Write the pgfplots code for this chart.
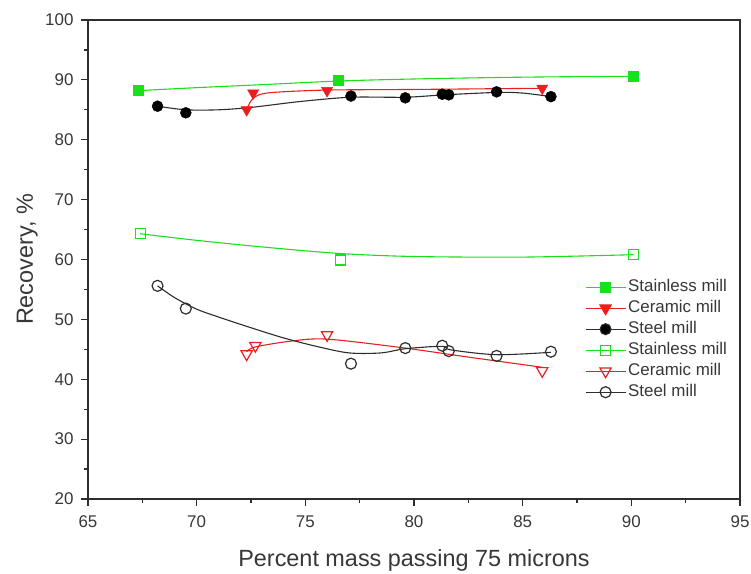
\documentclass[border=0pt]{standalone}
\usepackage{fontspec}
\setmainfont{Liberation Sans}
\usepackage{pgfplots}
\pgfplotsset{compat=1.18}

\definecolor{mgreen}{RGB}{25,225,25}
\definecolor{mred}{RGB}{235,30,30}
\definecolor{mgray}{RGB}{45,45,45}
\definecolor{tgray}{RGB}{55,55,55}

% measured recoveries
\pgfplotstableread{
x y
67.3 88.2
76.5 89.9
90.1 90.6
}\stainlessA
\pgfplotstableread{
x y
72.3 85.0
72.6 87.8
76.0 88.2
85.9 88.6
}\ceramicA
\pgfplotstableread{
x y
68.2 85.6
69.5 84.5
77.1 87.3
79.6 87.0
81.3 87.6
81.6 87.5
83.8 88.0
86.3 87.2
}\steelA
\pgfplotstableread{
x y
67.4 64.3
76.6 59.9
90.1 60.8
}\stainlessB
\pgfplotstableread{
x y
72.3 44.2
72.7 45.6
76.0 47.4
85.9 41.4
}\ceramicB
\pgfplotstableread{
x y
68.2 55.6
69.5 51.8
77.1 42.6
79.6 45.2
81.3 45.6
81.6 44.7
83.8 43.9
86.3 44.6
}\steelB

% fitted trend curves
\pgfplotstableread{
x y
67.3 88.2
70.0 88.7
73.0 89.2
76.5 89.8
79.4 90.1
83.0 90.35
86.3 90.5
90.1 90.6
}\fitStainlessA
\pgfplotstableread{
x y
72.3 85.0
72.5 86.5
72.8 87.4
73.5 87.9
76.0 88.3
80.0 88.4
85.9 88.6
}\fitCeramicA
\pgfplotstableread{
x y
68.2 85.6
69.5 85.0
71.0 85.0
72.5 85.4
74.8 86.4
77.1 87.1
79.6 87.1
81.4 87.5
83.8 87.9
85.0 87.8
86.3 87.2
}\fitSteelA
\pgfplotstableread{
x y
67.4 64.3
70.0 63.2
73.0 62.1
76.6 61.0
80.0 60.5
85.0 60.4
90.1 60.8
}\fitStainlessB
\pgfplotstableread{
x y
72.3 44.6
72.7 45.4
74.4 46.4
76.0 46.7
79.4 45.3
82.5 43.7
85.9 42.0
}\fitCeramicB
\pgfplotstableread{
x y
68.2 55.6
69.0 53.6
70.0 51.7
71.0 50.4
72.5 48.6
74.0 46.9
75.5 45.5
77.0 44.4
78.5 44.4
79.6 45.1
81.3 45.5
81.7 44.9
83.8 44.1
86.3 44.5
}\fitSteelB

\begin{document}
\begin{tikzpicture}
\begin{axis}[
  scale only axis,
  width=652bp, height=479bp,
  xmin=65, xmax=95, ymin=20, ymax=100,
  xtick={65,70,...,95}, ytick={20,30,...,100},
  minor x tick num=1, minor y tick num=1,
  tick pos=left, tick align=outside,
  major tick length=7bp, minor tick length=4bp,
  axis line style={mgray, line width=1.3bp},
  every tick/.style={mgray, line width=1.2bp},
  /pgf/number format/assume math mode=true,
  tick label style={font=\fontsize{17}{17}\selectfont, text=tgray},
  xticklabel style={anchor=north, yshift=-6bp},
  yticklabel style={anchor=east, xshift=-4bp},
  every axis x label/.style={at={([yshift=-68bp]axis description cs:0.5,0)}, anchor=base,
    font=\fontsize{23.5}{23.5}\selectfont, text=tgray},
  every axis y label/.style={at={([xshift=-55bp]axis description cs:0,0.5)}, anchor=base, rotate=90,
    font=\fontsize{23.5}{23.5}\selectfont, text=tgray},
  xlabel={Percent mass passing 75 microns},
  ylabel={Recovery, \%},
  legend cell align=left,
  legend style={draw=none, fill=none, at={(rel axis cs:0.762,0.4645)}, anchor=north west,
    font=\fontsize{17}{17}\selectfont, text=tgray, inner sep=0pt,
    nodes={inner xsep=2bp, inner ysep=2bp, text height=13bp, text depth=4bp}},
  legend image code/.code={\draw[mark repeat=2, mark phase=2, #1]
    plot coordinates {(0bp,0bp) (20bp,0bp) (40bp,0bp)};},
]
% trend curves
\addplot[mgreen, line width=1.1bp, smooth, forget plot] table {\fitStainlessA};
\addplot[mred, line width=1.1bp, smooth, forget plot] table {\fitCeramicA};
\addplot[mgray, line width=1.1bp, smooth, forget plot] table {\fitSteelA};
\addplot[mgreen, line width=1.1bp, smooth, forget plot] table {\fitStainlessB};
\addplot[mred, line width=1.1bp, smooth, forget plot] table {\fitCeramicB};
\addplot[mgray, line width=1.1bp, smooth, forget plot] table {\fitSteelB};

% measured points
\addplot[only marks, mark=square*, mark size=5bp, mgreen, forget plot] table {\stainlessA};
\addplot[only marks, mark=triangle*, mark size=6.5bp, mred, mark options={rotate=180}, forget plot] table {\ceramicA};
\addplot[only marks, mark=*, mark size=5.5bp, black, forget plot] table {\steelA};
\addplot[only marks, mark=square, mark size=5bp, mgreen, mark options={line width=1.2bp, fill=white}, forget plot] table {\stainlessB};
\addplot[only marks, mark=triangle, mark size=6.5bp, mred, mark options={rotate=180, line width=1.2bp, fill=white}, forget plot] table {\ceramicB};
\addplot[only marks, mark=o, mark size=5.5bp, mgray, mark options={line width=1.2bp, fill=white}, forget plot] table {\steelB};

% legend
\addlegendimage{mgreen, line width=1.1bp, mark=square*, mark size=5bp}
\addlegendentry{Stainless mill}
\addlegendimage{mred, line width=1.1bp, mark=triangle*, mark size=6.5bp, mark options={rotate=180}}
\addlegendentry{Ceramic mill}
\addlegendimage{mgray, line width=1.1bp, mark=*, mark size=5.5bp, mark options={fill=black}}
\addlegendentry{Steel mill}
\addlegendimage{mgreen, line width=1.1bp, mark=square, mark size=5bp, mark options={line width=1.2bp, fill=white}}
\addlegendentry{Stainless mill}
\addlegendimage{mred, line width=1.1bp, mark=triangle, mark size=6.5bp, mark options={rotate=180, line width=1.2bp, fill=white}}
\addlegendentry{Ceramic mill}
\addlegendimage{mgray, line width=1.1bp, mark=o, mark size=5.5bp, mark options={line width=1.2bp, fill=white}}
\addlegendentry{Steel mill}
\end{axis}
\pgfresetboundingbox
\path[use as bounding box] ([shift={(-88bp,-75bp)}]current axis.south west)
  rectangle ([shift={(11bp,20bp)}]current axis.north east);
\end{tikzpicture}
\end{document}
